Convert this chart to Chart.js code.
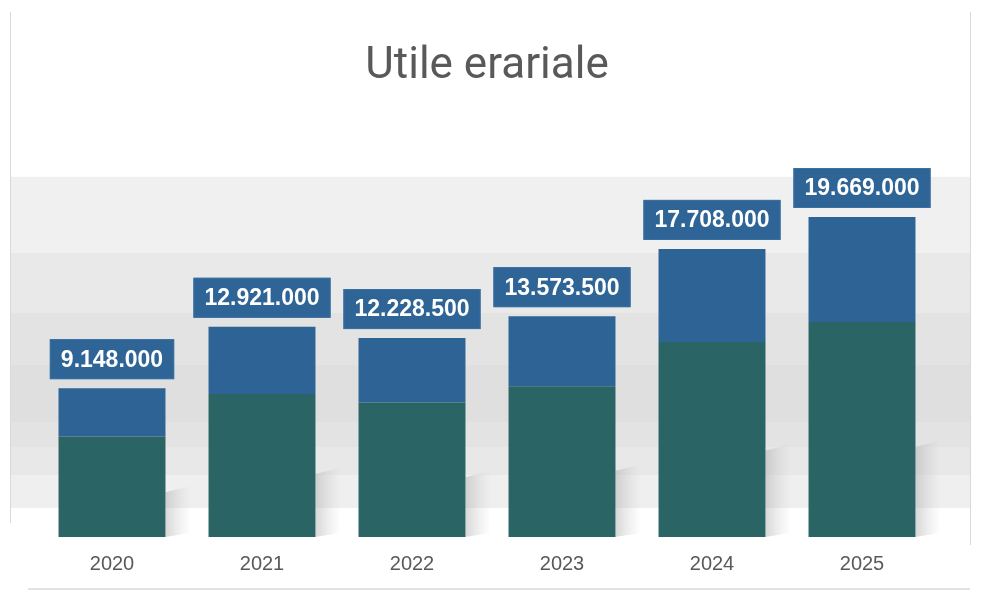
<!DOCTYPE html>
<html>
<head>
<meta charset="utf-8">
<script src="https://cdn.jsdelivr.net/npm/chart.js@4"></script>
<style>
html,body{margin:0;padding:0;background:#fff;}
#wrap{width:990px;height:616px;position:relative;}
</style>
</head>
<body>
<div id="wrap"><canvas id="c" width="990" height="616"></canvas></div>
<script>
const categories = ['2020', '2021', '2022', '2023', '2024', '2025'];
const lowerValues = [6170000, 8790000, 8270000, 9260000, 11980000, 13210000];
const upperValues = [2978000, 4131000, 3958500, 4313500, 5728000, 6459000];
const chartTitle = 'Utile erariale';

const GREEN = '#2a6464';
const BLUE = '#2e6395';

function fmtIt(n) {
  return String(Math.round(n)).replace(/\B(?=(\d{3})+(?!\d))/g, '.');
}

const backgroundPlugin = {
  id: 'bgBands',
  beforeDraw(chart) {
    const ctx = chart.ctx;
    const top = chart.chartArea.top;
    ctx.save();
    ctx.fillStyle = '#ffffff';
    ctx.fillRect(0, 0, chart.width, chart.height);
    const bands = [
      [top, 253, '#f0f0f0'],
      [253, 313, '#e9e9e9'],
      [313, 365, '#e3e3e3'],
      [365, 422, '#dfdfdf'],
      [422, 447, '#e3e3e3'],
      [447, 475, '#e8e8e8'],
      [475, 508, '#efefef']
    ];
    bands.forEach(b => {
      ctx.fillStyle = b[2];
      ctx.fillRect(11, b[0], 959, b[1] - b[0]);
    });
    ctx.strokeStyle = '#d9d9d9';
    ctx.lineWidth = 1;
    ctx.beginPath();
    ctx.moveTo(10.5, 12); ctx.lineTo(10.5, 523);
    ctx.moveTo(970.5, 12); ctx.lineTo(970.5, 545);
    ctx.stroke();
    ctx.strokeStyle = '#e2e2e2';
    ctx.lineWidth = 2;
    ctx.beginPath();
    ctx.moveTo(28, 589); ctx.lineTo(970, 589);
    ctx.stroke();
    ctx.restore();
  },
  beforeDatasetsDraw(chart) {
    const ctx = chart.ctx;
    const meta0 = chart.getDatasetMeta(0);
    const meta1 = chart.getDatasetMeta(1);
    ctx.save();
    meta0.data.forEach((bar, i) => {
      const right = bar.x + bar.width / 2;
      const base = bar.base;
      const topBar = meta1.data[i].y;
      const h = Math.min(90, (base - topBar) * 0.3);
      const g = ctx.createLinearGradient(right, 0, right + 26, 0);
      g.addColorStop(0, 'rgba(165,165,165,0.45)');
      g.addColorStop(1, 'rgba(200,200,200,0)');
      ctx.fillStyle = g;
      ctx.beginPath();
      ctx.moveTo(right, base - h);
      ctx.lineTo(right + 24, base - h - 6);
      ctx.lineTo(right + 24, base - 4);
      ctx.lineTo(right, base);
      ctx.closePath();
      ctx.fill();
    });
    ctx.restore();
  }
};

const labelPlugin = {
  id: 'totalLabels',
  afterDatasetsDraw(chart) {
    const ctx = chart.ctx;
    const meta1 = chart.getDatasetMeta(1);
    ctx.save();
    ctx.font = 'bold 23px "Liberation Sans", Arial, sans-serif';
    ctx.textAlign = 'center';
    ctx.textBaseline = 'middle';
    meta1.data.forEach((bar, i) => {
      const total = lowerValues[i] + upperValues[i];
      const txt = fmtIt(total);
      const w = ctx.measureText(txt).width + 22;
      const hgt = 40;
      const bottom = bar.y - 9;
      ctx.fillStyle = '#2e6496';
      ctx.fillRect(bar.x - w / 2, bottom - hgt, w, hgt);
      ctx.strokeStyle = '#3a70a2';
      ctx.lineWidth = 1;
      ctx.strokeRect(bar.x - w / 2 + 0.5, bottom - hgt + 0.5, w - 1, hgt - 1);
      ctx.fillStyle = '#ffffff';
      ctx.fillText(txt, bar.x, bottom - hgt / 2 + 1);
    });
    ctx.restore();
  }
};

new Chart(document.getElementById('c'), {
  type: 'bar',
  data: {
    labels: categories,
    datasets: [
      { label: 'Quota A', data: lowerValues, backgroundColor: GREEN, borderWidth: 0 },
      { label: 'Quota B', data: upperValues, backgroundColor: BLUE, borderWidth: 0 }
    ]
  },
  options: {
    responsive: false,
    animation: false,
    devicePixelRatio: 1,
    layout: { padding: { left: 37, right: 53, top: 0, bottom: 25 } },
    datasets: { bar: { categoryPercentage: 1.0, barPercentage: 0.713 } },
    plugins: {
      legend: { display: false },
      tooltip: { enabled: false },
      title: {
        display: true,
        text: chartTitle,
        color: '#595959',
        font: { family: 'Roboto, "Noto Sans", sans-serif', size: 44, weight: 'normal', lineHeight: 1.2 },
        padding: { top: 41, bottom: 83 }
      }
    },
    scales: {
      x: {
        stacked: true,
        grid: { display: false, drawTicks: false },
        border: { display: false },
        ticks: {
          color: '#595959',
          padding: 15,
          font: { family: '"Liberation Sans", Arial, sans-serif', size: 20 }
        }
      },
      y: {
        stacked: true,
        display: false,
        min: 0,
        max: 22140000
      }
    }
  },
  plugins: [backgroundPlugin, labelPlugin]
});
</script>
</body>
</html>
